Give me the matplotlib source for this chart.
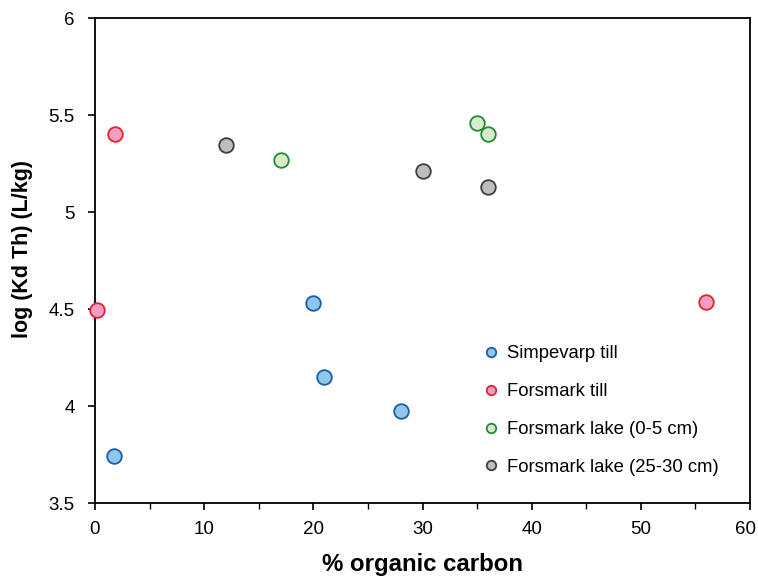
import matplotlib
matplotlib.use("Agg")
import matplotlib.pyplot as plt
from matplotlib.transforms import ScaledTranslation

plt.rcParams['font.family'] = ['Liberation Sans', 'DejaVu Sans']

# % organic carbon and log(Kd Th) for each sample group
simpevarp_till_oc = [1.7, 20, 21, 28]
simpevarp_till_kd = [3.74, 4.53, 4.15, 3.975]

forsmark_till_oc = [1.8, 0.2, 56]
forsmark_till_kd = [5.40, 4.495, 4.535]

forsmark_lake_0_5_oc = [17, 35, 36]
forsmark_lake_0_5_kd = [5.27, 5.46, 5.40]

forsmark_lake_25_30_oc = [12, 30, 36]
forsmark_lake_25_30_kd = [5.345, 5.21, 5.13]

series = [
    ("Simpevarp till", simpevarp_till_oc, simpevarp_till_kd, "#8fc6ec", "#1d5ca6"),
    ("Forsmark till", forsmark_till_oc, forsmark_till_kd, "#f29ec2", "#e8222c"),
    ("Forsmark lake (0-5 cm)", forsmark_lake_0_5_oc, forsmark_lake_0_5_kd, "#d9ebca", "#1f8c3b"),
    ("Forsmark lake (25-30 cm)", forsmark_lake_25_30_oc, forsmark_lake_25_30_kd, "#bdbdbd", "#3f3f3f"),
]

fig = plt.figure(figsize=(7.58, 5.81), dpi=100)
ax = fig.add_axes([95 / 758, 1 - 503 / 581, 655 / 758, 485 / 581])

for label, xs, ys, face, edge in series:
    ax.plot(xs, ys, linestyle="none", marker="o", markersize=10.5,
            markerfacecolor=face, markeredgecolor=edge, markeredgewidth=1.3,
            label=label, clip_on=False, zorder=3)

ax.set_xlim(0, 60)
ax.set_ylim(3.5, 6)
ax.set_xticks(range(0, 61, 10))
ax.set_xticks(range(5, 60, 10), minor=True)
ax.set_yticks([3.5, 4, 4.5, 5, 5.5, 6])
ax.set_yticklabels(["3.5", "4", "4.5", "5", "5.5", "6"])

ax.tick_params(axis="both", which="major", direction="out", length=5, width=1.2,
               labelsize=13.5, colors="black")
ax.tick_params(axis="x", which="major", pad=8)
ax.tick_params(axis="y", which="major", pad=9.5)
ax.tick_params(axis="x", which="minor", direction="out", length=4, width=1.0)
for sp in ax.spines.values():
    sp.set_linewidth(1.3)
    sp.set_color("black")

# keep the last x tick label inside the figure edge
fig.canvas.draw()
last = ax.get_xticklabels()[-1]
last.set_transform(last.get_transform() + ScaledTranslation(-4 / 100, 0, fig.dpi_scale_trans))

ax.set_xlabel("% organic carbon", fontsize=17.3, fontweight="bold", va="center")
ax.set_ylabel("log (Kd Th) (L/kg)", fontsize=15.5, fontweight="bold", va="center")
ax.xaxis.set_label_coords(0.5, (503 - 565) / 485)
ax.yaxis.set_label_coords((23 - 95) / 655, (503 - 249) / 485)

leg = ax.legend(loc="upper left", bbox_to_anchor=(0.5813, 0.3404), frameon=False,
                fontsize=13.3, markerscale=0.65, handlelength=0.8, handletextpad=0.465,
                labelspacing=1.13, borderaxespad=0)

fig.savefig("out.png", dpi=100)
